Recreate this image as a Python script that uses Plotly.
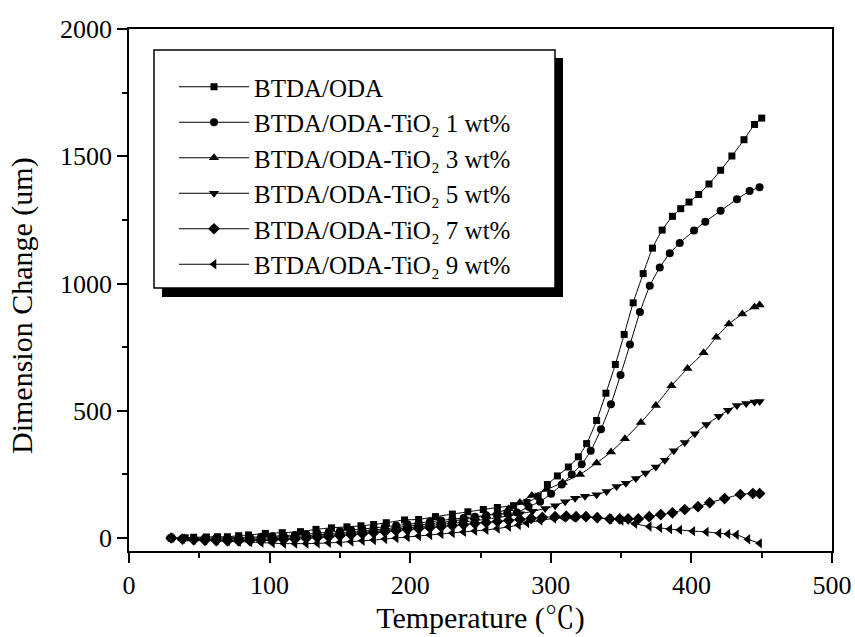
import plotly.graph_objects as go

# ---------------- data ----------------
names = [
    "BTDA/ODA",
    "BTDA/ODA-TiO₂ 1 wt%",
    "BTDA/ODA-TiO₂ 3 wt%",
    "BTDA/ODA-TiO₂ 5 wt%",
    "BTDA/ODA-TiO₂ 7 wt%",
    "BTDA/ODA-TiO₂ 9 wt%",
]
symbols = ["square", "circle", "triangle-up", "triangle-down", "diamond", "triangle-left"]
marker_sizes = [7, 8, 9, 9, 9, 9]

x_a = [30, 40, 46, 55, 63, 70, 78, 85, 97, 109, 122, 133, 144, 155, 165, 174, 183, 196, 206, 218,
       230, 241, 252, 262, 273.5, 283, 291, 297.6, 304.7, 312.5, 319.6, 325.5, 332.6, 339.2, 345.9,
       352.2, 358.6, 365.7, 372.3, 379.2, 386.5, 392.4, 398.3, 405.2, 412.5, 420.8, 428.8, 437.4,
       444.9, 450]
y_a = [0, 1, 3, 4, 5, 5, 9, 12, 18, 21, 25, 34, 40, 44, 48, 53, 60, 71, 73, 84,
       94, 103, 112, 120, 127, 140, 164, 210, 244, 279, 319, 371, 462, 569, 682,
       800, 924, 1039, 1139, 1210, 1264, 1294, 1320, 1350, 1391, 1445, 1501, 1565,
       1625, 1650]

x_b = [30, 38, 46, 54, 62, 70, 78, 86, 94, 102, 110, 118, 126, 134, 142, 150, 158, 166, 174, 182,
       190, 198, 206, 214, 222, 230, 238, 246, 254, 262, 269, 275.9, 284.2, 292.4, 300.2, 307.8,
       314.9, 322, 328.4, 335.7, 342.8, 349.6, 356.3, 363.4, 370.4, 377.5, 384.6, 391.7, 401.9,
       409.9, 420.8, 432.4, 441.4, 448.5]
y_b = [0, -2, -2, -1, 0, 1, 2, 3, 5, 7, 9, 12, 15, 19, 23, 27, 31, 35, 40, 44,
       49, 54, 59, 64, 69, 74, 79, 84, 89, 94, 97, 100, 123, 143, 174, 210,
       250, 290, 343, 427, 526, 641, 760, 888, 991, 1063, 1119, 1159, 1208,
       1243, 1286, 1331, 1363, 1378]

x_c = [30, 38, 46, 54, 62, 70, 78, 86, 94, 102, 110, 118, 126, 134, 142, 150, 158, 166, 174, 182,
       190, 198, 206, 214, 222, 230, 238, 246, 254, 262, 270, 278, 286.5, 297.2, 308.5, 320.8,
       332.6, 342.8, 352.7, 364.1, 374.7, 385.8, 397.2, 408.7, 417.7, 426.7, 436.2, 444.9, 448.5]
y_c = [0, -3, -4, -4, -4, -3, -2, -1, 0, 2, 4, 6, 9, 12, 15, 19, 23, 27, 31, 36,
       41, 46, 51, 56, 61, 67, 73, 80, 88, 100, 115, 140, 167, 191, 218, 250,
       295, 338, 390, 454, 521, 598, 666, 728, 789, 841, 880, 908, 916]

x_d = [30, 38, 46, 54, 62, 70, 78, 86, 94, 102, 110, 118, 126, 134, 142, 150, 158, 166, 174, 182,
       190, 198, 206, 214, 222, 230, 238, 246, 254, 262, 270, 278, 287, 296, 303.1, 310.2, 317.3,
       324.3, 332.6, 339.7, 346.8, 353.4, 360.5, 367.4, 374.7, 381.1, 387.5, 395.3, 402.4, 410.6,
       419.4, 426, 432.4, 439, 444.9, 448.5]
y_d = [0, -4, -6, -7, -8, -8, -7, -6, -5, -3, -1, 1, 4, 7, 10, 14, 18, 22, 26, 30,
       35, 40, 44, 49, 54, 58, 63, 68, 74, 80, 87, 95, 105, 116, 127, 143, 156,
       164, 170, 183, 202, 215, 234, 255, 279, 306, 343, 375, 410, 446,
       478, 502, 521, 529, 534, 536]

x_e = [30, 38, 46, 54, 62, 70, 78, 86, 94, 102, 110, 118, 126, 134, 142, 150, 158, 166, 174, 182,
       190, 198, 206, 214, 222, 230, 238, 246, 254, 262, 270, 278, 286, 294, 303, 311, 318, 325,
       333, 342, 349, 355, 362.2, 370, 378.2, 386.5, 395.3, 404.7, 413, 423.6, 434.8, 443.7, 448.5]
y_e = [0, -4, -7, -9, -10, -11, -11, -10, -9, -8, -6, -4, -1, 2, 5, 9, 13, 17, 21, 25,
       29, 33, 37, 41, 45, 49, 53, 57, 61, 65, 69, 73, 77, 81, 84, 86, 84, 84,
       80, 75, 75, 75, 75, 84, 92, 99, 112, 123, 139, 155, 171, 175, 175]

x_f = [30, 38, 46, 54, 62, 70, 78, 86, 94, 102, 110, 118, 126, 134, 142, 150, 158, 166, 174, 182,
       190, 198, 206, 214, 222, 230, 238, 246, 254, 262, 270, 277, 283, 292.4, 302, 309, 316, 324,
       332.6, 342, 350, 359.8, 370, 377.5, 384.6, 391.7, 401, 410.6, 419.6, 426, 432, 440.2, 448.5]
y_f = [0, -3, -6, -8, -10, -12, -14, -16, -18, -20, -22, -22, -22, -21, -19, -17, -14, -11, -8, -4,
       0, 4, 8, 12, 16, 20, 24, 28, 32, 37, 44, 51, 59, 69, 77, 80, 80, 84,
       80, 75, 69, 56, 45, 40, 35, 32, 27, 24, 19, 16, 13, -5, -21]

xs = [x_a, x_b, x_c, x_d, x_e, x_f]
ys = [y_a, y_b, y_c, y_d, y_e, y_f]

x_ticks = [0, 100, 200, 300, 400, 500]
y_ticks = [0, 500, 1000, 1500, 2000]

FONT = "Liberation Serif, Times New Roman, Noto Serif CJK SC, Noto Sans CJK SC, serif"

fig = go.Figure()
for name, sym, ms, x, y in zip(names, symbols, marker_sizes, xs, ys):
    fig.add_trace(go.Scatter(
        x=x, y=y, name=name, mode="lines+markers",
        line=dict(color="black", width=1, shape="spline", smoothing=0.6),
        marker=dict(symbol=sym, size=ms, color="black"),
    ))

# plot area geometry (px): left 129, right 832, top 29, bottom 551
W, H = 855, 637
L, R, T, B = 129, 832, 29, 551
pw, ph = R - L, B - T

def px(xp):
    return (xp - L) / pw

def py(yp):
    return (B - yp) / ph

# legend shadow and box
fig.add_shape(type="rect", xref="paper", yref="paper",
              x0=px(162), x1=px(563), y0=py(297), y1=py(58),
              fillcolor="black", line=dict(width=0), layer="above")
fig.add_shape(type="rect", xref="paper", yref="paper",
              x0=px(154), x1=px(555), y0=py(288), y1=py(50),
              fillcolor="white", line=dict(color="black", width=1.5), layer="above")

# y axis title as annotation (positioned like the reference)
fig.add_annotation(
    text="Dimension Change (um)", xref="paper", yref="paper",
    x=px(22), y=py(306), xanchor="center", yanchor="middle",
    textangle=-90, showarrow=False,
    font=dict(family=FONT, size=30, color="black"),
)

axis_common = dict(
    showline=True, linecolor="black", linewidth=1.5, mirror=True,
    ticks="outside", ticklen=10, tickwidth=1.5, tickcolor="black",
    showgrid=False, zeroline=False,
    tickfont=dict(family=FONT, size=26, color="black"),
)

fig.update_xaxes(
    range=[0, 500], tickvals=x_ticks, ticktext=[str(v) for v in x_ticks],
    minor=dict(ticks="outside", ticklen=5, tickwidth=1.5, tickcolor="black", dtick=50),
    title=dict(text="Temperature (℃)", font=dict(family=FONT, size=30, color="black"), standoff=8),
    **axis_common,
)
fig.update_yaxes(
    range=[-51, 2000], tickvals=y_ticks, ticktext=[str(v) for v in y_ticks],
    minor=dict(ticks="outside", ticklen=5, tickwidth=1.5, tickcolor="black", dtick=250, tick0=0),
    **axis_common,
)

fig.update_layout(
    width=W, height=H,
    margin=dict(l=L, r=W - R, t=T, b=H - B, autoexpand=False),
    paper_bgcolor="white", plot_bgcolor="white",
    font=dict(family=FONT, color="black"),
    showlegend=True,
    legend=dict(
        x=px(174), y=py(64), xanchor="left", yanchor="top",
        bgcolor="rgba(0,0,0,0)", borderwidth=0,
        font=dict(family=FONT, size=25, color="black"),
        tracegroupgap=0, itemwidth=70,
    ),
)

fig.write_html("out.html")
